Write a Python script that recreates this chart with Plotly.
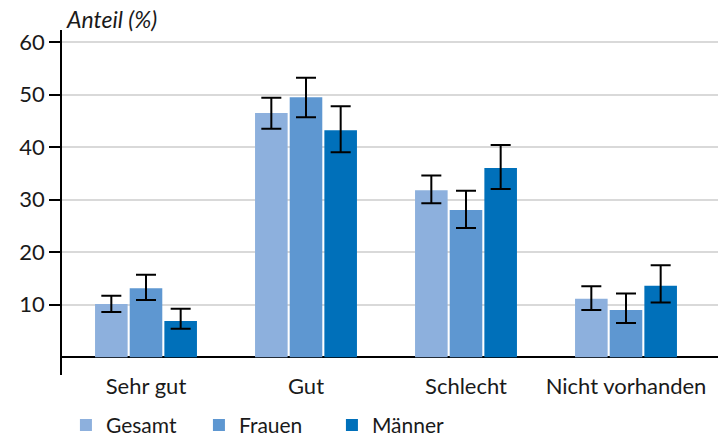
import plotly.graph_objects as go

categories = ["Sehr gut", "Gut", "Schlecht", "Nicht vorhanden"]
series_names = ["Gesamt", "Frauen", "Männer"]
gesamt = [10.1, 46.5, 31.8, 11.1]
gesamt_hi = [11.7, 49.4, 34.6, 13.5]
gesamt_lo = [8.6, 43.5, 29.3, 9.0]
frauen = [13.1, 49.5, 28.0, 9.0]
frauen_hi = [15.7, 53.2, 31.7, 12.1]
frauen_lo = [10.9, 45.7, 24.6, 6.5]
maenner = [6.9, 43.2, 36.0, 13.6]
maenner_hi = [9.2, 47.8, 40.4, 17.5]
maenner_lo = [5.4, 39.0, 32.0, 10.4]
colors = ["#8DB0DD", "#5E97D1", "#0070BA"]
y_ticks = [10, 20, 30, 40, 50, 60]

FONT = "Lato"
FS = 22
fig = go.Figure()
for name, vals, hi, lo, col in zip(series_names, [gesamt, frauen, maenner],
                                   [gesamt_hi, frauen_hi, maenner_hi],
                                   [gesamt_lo, frauen_lo, maenner_lo], colors):
    fig.add_trace(go.Bar(
        x=categories, y=vals, name=name, marker_color=col, marker_line_width=0,
        error_y=dict(type="data", symmetric=False,
                     array=[h - v for h, v in zip(hi, vals)],
                     arrayminus=[v - l for v, l in zip(vals, lo)],
                     color="black", thickness=2, width=10),
    ))

fig.update_layout(
    width=725, height=436,
    margin=dict(l=62, r=7, t=30, b=61, autoexpand=False),
    plot_bgcolor="white", paper_bgcolor="white",
    barmode="group", bargap=0.35, bargroupgap=0.06,
    font=dict(family=FONT, size=FS, color="#1a1a1a"),
    showlegend=True,
    legend=dict(orientation="h", x=0.006, xanchor="left", y=-0.146, yanchor="middle",
                font=dict(size=21, family=FONT), entrywidth=88,
                traceorder="normal"),
    xaxis=dict(range=[-0.525, 3.575], showgrid=False, showline=False, ticks="",
               tickfont=dict(size=FS), zeroline=False, automargin=False,
               ticklabelstandoff=-4),
    yaxis=dict(range=[-3.4, 62.3], tickvals=y_ticks, showgrid=True, gridcolor="#d9d9d9",
               gridwidth=1.5, showline=True, linecolor="black", linewidth=1.5,
               ticks="outside", ticklen=11, tickcolor="black", tickwidth=1.5,
               zeroline=True, zerolinecolor="black", zerolinewidth=1.5,
               tickfont=dict(size=FS), automargin=False),
    annotations=[dict(text="<i>Anteil (%)</i>", x=0, xref="paper", xanchor="left",
                      y=1.0, yref="paper", yanchor="bottom", showarrow=False,
                      xshift=2, yshift=-5, font=dict(size=23, family=FONT))],
)
fig.write_html("out.html", config={"displayModeBar": False},
               post_script="document.body.style.margin='0';document.body.style.overflow='hidden';")
